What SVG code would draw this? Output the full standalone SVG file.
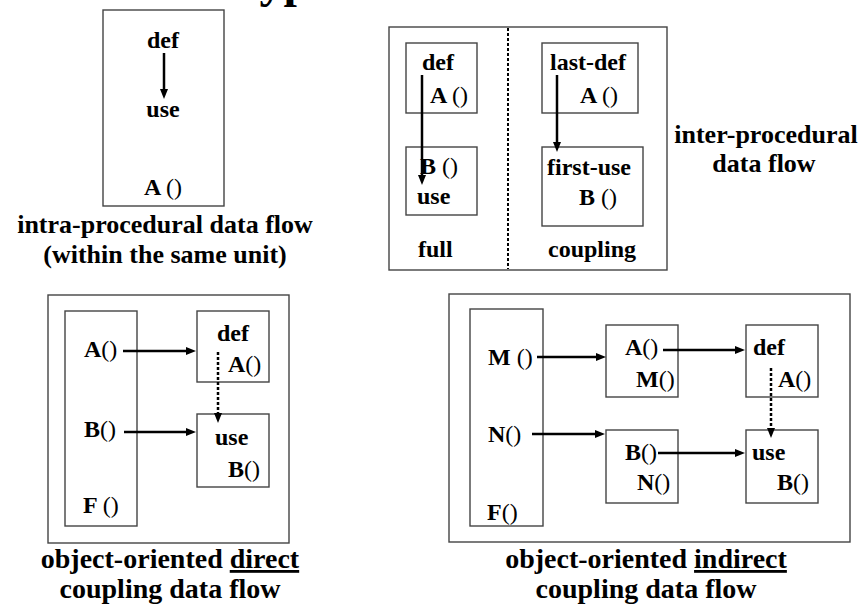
<svg xmlns="http://www.w3.org/2000/svg" width="861" height="610" viewBox="0 0 861 610">
<style>
text{font-family:"Liberation Serif","Times New Roman",serif;font-weight:bold;fill:#000}
.t{font-size:24px}
.c{font-size:26px}
.b{font-size:28px}
.m{text-anchor:middle}
.p{font-weight:normal}
.box{fill:#fff;stroke:#444;stroke-width:1.4}
.ln{stroke:#000;stroke-width:2.5;fill:none}
.dt{stroke:#000;stroke-width:2.5;fill:none;stroke-dasharray:3 2}
.dv{stroke:#000;stroke-width:2;fill:none;stroke-dasharray:3 2}
.u{text-decoration:underline}
</style>
<defs>
<marker id="ah" viewBox="0 0 10 8" refX="3" refY="4" markerWidth="10" markerHeight="8" markerUnits="userSpaceOnUse" orient="auto"><path d="M0,0 L10,4 L0,8 z" fill="#000"/></marker>
</defs>
<rect width="861" height="610" fill="#fff"/>
<text x="231" y="-3" style="font-size:48px">Types</text>

<g id="intra">
<rect class="box" x="103" y="10" width="121" height="196"/>
<text class="t m" x="163" y="48">def</text>
<text class="t m" x="163" y="117">use</text>
<text class="t m" x="163" y="195">A <tspan class="p">()</tspan></text>
<text class="c m" x="165" y="233">intra-procedural data flow</text>
<text class="c m" x="165" y="263">(within the same unit)</text>
</g>

<g id="inter">
<rect class="box" x="389" y="27" width="278" height="243"/>
<line class="dv" x1="508" y1="28" x2="508" y2="269"/>
<rect class="box" x="406" y="43" width="71" height="70"/>
<text class="t" x="422" y="70">def</text>
<text class="t" x="430" y="103">A <tspan class="p">()</tspan></text>
<rect class="box" x="406" y="147" width="71" height="68"/>
<text class="t" x="420" y="174">B <tspan class="p">()</tspan></text>
<text class="t" x="417" y="204">use</text>
<rect class="box" x="542" y="43" width="96" height="70"/>
<text class="t" x="550" y="70">last-def</text>
<text class="t" x="580" y="103">A <tspan class="p">()</tspan></text>
<rect class="box" x="542" y="147" width="101" height="79"/>
<text class="t" x="547" y="175">first-use</text>
<text class="t" x="579" y="205">B <tspan class="p">()</tspan></text>
<text class="t" x="418" y="257">full</text>
<text class="t" x="548" y="257">coupling</text>
<text class="c m" x="766" y="143">inter-procedural</text>
<text class="c m" x="764" y="172">data flow</text>
</g>

<g id="direct">
<rect class="box" x="48" y="295" width="241" height="248"/>
<rect class="box" x="65" y="311" width="72" height="215"/>
<text class="t" x="84" y="357">A<tspan class="p">()</tspan></text>
<text class="t" x="84" y="437">B<tspan class="p">()</tspan></text>
<text class="t" x="83" y="513">F <tspan class="p">()</tspan></text>
<rect class="box" x="197" y="311" width="72" height="71"/>
<text class="t" x="217" y="341">def</text>
<text class="t" x="228" y="372">A<tspan class="p">()</tspan></text>
<rect class="box" x="197" y="414" width="72" height="73"/>
<text class="t" x="215" y="445">use</text>
<text class="t" x="228" y="477">B<tspan class="p">()</tspan></text>
<text class="b m" x="170" y="568">object-oriented <tspan class="u">direct</tspan></text>
<text class="b m" x="170" y="598">coupling data flow</text>
</g>

<g id="indirect">
<rect class="box" x="449" y="294" width="401" height="248"/>
<rect class="box" x="470" y="309" width="73" height="217"/>
<text class="t" x="488" y="365">M <tspan class="p">()</tspan></text>
<text class="t" x="488" y="442">N<tspan class="p">()</tspan></text>
<text class="t" x="487" y="520">F<tspan class="p">()</tspan></text>
<rect class="box" x="606" y="325" width="72" height="72"/>
<text class="t" x="625" y="355">A<tspan class="p">()</tspan></text>
<text class="t" x="636" y="387">M<tspan class="p">()</tspan></text>
<rect class="box" x="746" y="325" width="72" height="72"/>
<text class="t" x="753" y="355">def</text>
<text class="t" x="778" y="387">A<tspan class="p">()</tspan></text>
<rect class="box" x="606" y="430" width="72" height="73"/>
<text class="t" x="625" y="460">B<tspan class="p">()</tspan></text>
<text class="t" x="637" y="490">N<tspan class="p">()</tspan></text>
<rect class="box" x="746" y="430" width="72" height="73"/>
<text class="t" x="752" y="460">use</text>
<text class="t" x="777" y="490">B<tspan class="p">()</tspan></text>
<text class="b m" x="646" y="568">object-oriented <tspan class="u">indirect</tspan></text>
<text class="b m" x="646" y="598">coupling data flow</text>
</g>

<g id="connectors">
<line class="ln" x1="164" y1="53" x2="164" y2="92" marker-end="url(#ah)"/>
<line class="ln" x1="422" y1="75" x2="422" y2="178" marker-end="url(#ah)"/>
<line class="ln" x1="557" y1="75" x2="557" y2="145" marker-end="url(#ah)"/>
<line class="ln" x1="123" y1="351" x2="189" y2="351" marker-end="url(#ah)"/>
<line class="ln" x1="124" y1="432" x2="189" y2="432" marker-end="url(#ah)"/>
<line class="dt" x1="218" y1="352" x2="218" y2="416" marker-end="url(#ah)"/>
<line class="ln" x1="537" y1="357" x2="599" y2="357" marker-end="url(#ah)"/>
<line class="ln" x1="663" y1="350" x2="738" y2="350" marker-end="url(#ah)"/>
<line class="ln" x1="532" y1="434" x2="598" y2="434" marker-end="url(#ah)"/>
<line class="ln" x1="658" y1="453" x2="738" y2="453" marker-end="url(#ah)"/>
<line class="dt" x1="771" y1="368" x2="771" y2="431" marker-end="url(#ah)"/>
</g>
</svg>
